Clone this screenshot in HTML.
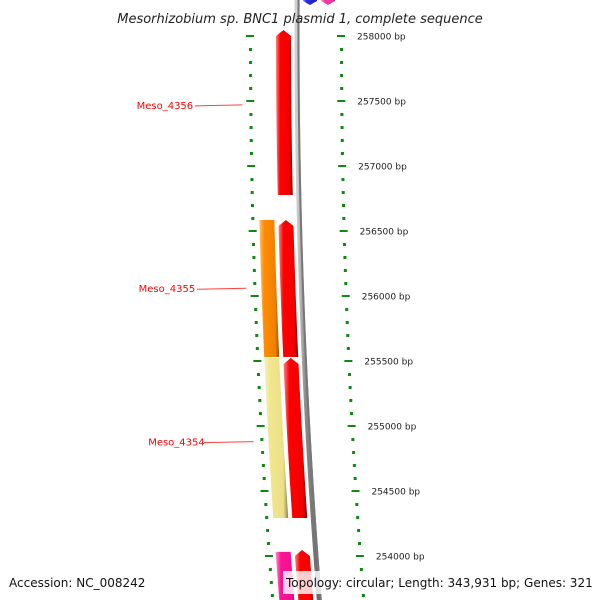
<!DOCTYPE html>
<html><head><meta charset="utf-8"><style>
body{margin:0;background:#fff}
svg{display:block;font-family:"DejaVu Sans","Liberation Sans",sans-serif}
</style></head><body>
<svg id="map" width="600" height="600" viewBox="0 0 600 600">
<defs>
<linearGradient id="gRed" x1="0" x2="1"><stop offset="0" stop-color="#ff8080"/><stop offset="0.25" stop-color="#ff0000"/><stop offset="0.8" stop-color="#f00000"/><stop offset="1" stop-color="#900000"/></linearGradient>
<linearGradient id="gOrange" x1="0" x2="1"><stop offset="0" stop-color="#ffc070"/><stop offset="0.25" stop-color="#ff8c00"/><stop offset="0.8" stop-color="#f08000"/><stop offset="1" stop-color="#a05000"/></linearGradient>
<linearGradient id="gKhaki" x1="0" x2="1"><stop offset="0" stop-color="#f8f0c0"/><stop offset="0.25" stop-color="#f0e68c"/><stop offset="0.8" stop-color="#ebe088"/><stop offset="1" stop-color="#8a8050"/></linearGradient>
<linearGradient id="gMag" x1="0" x2="1"><stop offset="0" stop-color="#ff90d0"/><stop offset="0.25" stop-color="#ff1493"/><stop offset="0.8" stop-color="#f01090"/><stop offset="1" stop-color="#900858"/></linearGradient>
<linearGradient id="gBlue" x1="0" x2="1"><stop offset="0" stop-color="#8080ff"/><stop offset="0.25" stop-color="#0000ff"/><stop offset="1" stop-color="#000090"/></linearGradient>
<linearGradient id="gGray" x1="0" x2="1"><stop offset="0" stop-color="#d0d0d0"/><stop offset="0.4" stop-color="#888"/><stop offset="1" stop-color="#666"/></linearGradient>
</defs>
<g id="backbone"></g>
<g id="ticks"></g>
<g id="genes"></g>
<g id="labels"></g>
<text x="300" y="23" text-anchor="middle" font-size="13" font-style="italic" fill="#222">Mesorhizobium sp. BNC1 plasmid 1, complete sequence</text>
<text x="9" y="587" font-size="12" fill="#111">Accession: NC_008242</text>
<rect x="283" y="571" width="310" height="23" fill="#fff" opacity="0.8"/>
<text x="286" y="587" font-size="12" fill="#111">Topology: circular; Length: 343,931 bp; Genes: 321</text>
</svg>
<script>
const tickBp = [258000,257500,257000,256500,256000,255500,255000,254500,254000];
const tickLabels = ["258000 bp","257500 bp","257000 bp","256500 bp","256000 bp","255500 bp","255000 bp","254500 bp","254000 bp"];
const geneNames = ["g1","g2","g3","g4","orange","khaki","mag","topBlue","topMag"];
const geneStart = [258046,256585,255523,254046,256585,255523,254032,258300,258300];
const geneEnd = [256777,255531,254292,253500,255531,254292,253500,258240,258240];
const geneStrand = [1,1,1,1,-1,-1,-1,0,0];
const geneFill = ["gRed","gRed","gRed","gRed","gOrange","gKhaki","gMag","gBlue","gMag"];
const labelNames = ["Meso_4356","Meso_4355","Meso_4354"];
const labelBp = [257470,256060,254880];

const NS="http://www.w3.org/2000/svg";
const Y = bp => 36 + (258000 - bp) * 0.13;
const dx = y => 7e-5 * (y - 36) * (y - 36);
function mk(tag, attrs, parent){const e=document.createElementNS(NS,tag);for(const k in attrs)e.setAttribute(k,attrs[k]);parent.appendChild(e);return e;}

// backbone
const bb=document.getElementById('backbone');
let pts=[];for(let y=-5;y<=605;y+=10)pts.push([297+dx(y),y]);
const bbp=mk('path',{d:'M'+pts.map(p=>p[0]+','+p[1]).join(' L'),stroke:'url(#gGray)',fill:'none','stroke-width':5},bb);


const bbp2=mk('path',{d:'M'+pts.map(p=>(p[0]+1.5)+','+p[1]).join(' L'),stroke:'#777',fill:'none','stroke-width':2},bb);



// ticks
const tg=document.getElementById('ticks');
for(let bp=258000;bp>=253600;bp-=100){
  const y=Y(bp); if(y>600)break;
  const major = bp%500===0;
  const l=mk('rect',{x:(major?246:249)+dx(y),y:y-1,width:major?8:3,height:major?2:3,fill:'#118811'},tg);
  
  
  const r=mk('rect',{x:(major?337:340)+dx(y),y:y-1,width:major?8:3,height:major?2:3,fill:'#118811'},tg);
  
  
}
tickBp.forEach((bp,i)=>{
  const y=Y(bp);
  const t=mk('text',{x:357+dx(y),y:y+3.5,'font-size':9,fill:'#222'},tg);
  t.textContent=tickLabels[i];
  
  
});

// genes
const gg=document.getElementById('genes');
geneNames.forEach((n,i)=>{
  let base = geneStrand[i]===1?276:geneStrand[i]===-1?257:(n==='topBlue'?303:321);
  const w = geneStrand[i]===0?14:15;
  const y0=Y(geneStart[i]), y1=Y(geneEnd[i]);
  const steps=[];for(let k=0;k<=10;k++)steps.push(y0+(y1-y0)*k/10);
  let d='';
  if(geneStrand[i]===1){
    const yt=y0, yb=y1; const ya=yt+6;
    d='M'+(base+dx(ya))+','+ya+' L'+(base+w/2+dx(yt))+','+yt+' L'+(base+w+dx(ya))+','+ya;
    for(let k=0;k<=10;k++){const y=ya+(yb-ya)*k/10;d+=' L'+(base+w+dx(y))+','+y;}
    for(let k=10;k>=0;k--){const y=ya+(yb-ya)*k/10;d+=' L'+(base+dx(y))+','+y;}
    d+='Z';
  } else if(geneStrand[i]===-1){
    d='M'+steps.map(y=>(base+dx(y))+','+y).join(' L');
    d+=' L'+steps.slice().reverse().map(y=>(base+w+dx(y))+','+y).join(' L')+'Z';
  } else {
    const yt=-10, yb=5;
    d='M'+base+','+yt+' L'+(base+w)+','+yt+' L'+(base+w)+','+(yb-4)+' L'+(base+w/2)+','+yb+' L'+base+','+(yb-4)+'Z';
  }
  const p=mk('path',{d:d,fill:'url(#'+geneFill[i]+')',opacity:geneStrand[i]===0?0.85:1},gg);
  
  
});

// labels
const lg=document.getElementById('labels');
labelNames.forEach((n,i)=>{
  const y=Y(labelBp[i]);
  const t=mk('text',{x:193+dx(y)*0.5+ (i===2?6:0),y:y+4,'font-size':10,fill:'#ff0000','text-anchor':'end'},lg);
  t.textContent=n;
  
  
  const x0=195+(i===1?2:0)+(i===2?9:0), x1=242+dx(y);
  const l=mk('line',{x1:x0,y1:y+1,x2:x1,y2:y,stroke:'#ff4040','stroke-width':1},lg);
  
  
});
</script>
</body></html>
